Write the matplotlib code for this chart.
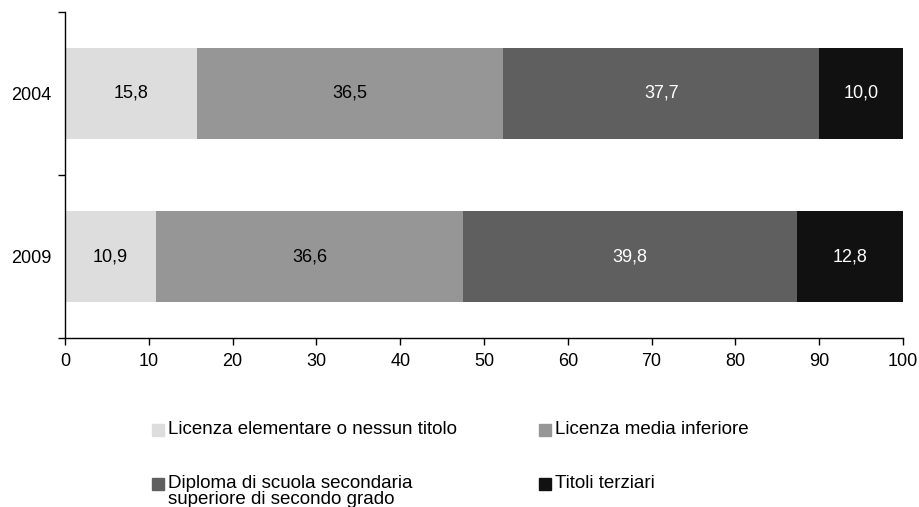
import matplotlib
matplotlib.use("Agg")
import matplotlib.pyplot as plt
from matplotlib.patches import Rectangle

plt.rcParams['font.family'] = ['Liberation Sans', 'DejaVu Sans']

years = ["2004", "2009"]
categories = ["Licenza elementare o nessun titolo",
              "Licenza media inferiore",
              "Diploma di scuola secondaria\nsuperiore di secondo grado",
              "Titoli terziari"]
values_2004 = [15.8, 36.5, 37.7, 10.0]
values_2009 = [10.9, 36.6, 39.8, 12.8]
series = [values_2004, values_2009]
colors = ["#dddddd", "#969696", "#5f5f5f", "#111111"]
text_colors = ["#000000", "#000000", "#ffffff", "#ffffff"]
xticks = [0, 10, 20, 30, 40, 50, 60, 70, 80, 90, 100]

FS = 13
LFS = 13.5

fig = plt.figure(figsize=(9.2, 5.07), dpi=100)
ax = fig.add_axes([65/920, 1-338/507, (903-65)/920, (338-12)/507])

ypos = [1.5, 0.5]
for yi, vals in zip(ypos, series):
    left = 0
    for j, v in enumerate(vals):
        ax.barh(yi, v, left=left, height=0.56, color=colors[j], edgecolor='none')
        ax.text(left + v/2, yi, f"{v:.1f}".replace('.', ','), ha='center', va='center',
                fontsize=FS, color=text_colors[j])
        left += v

ax.set_xlim(0, 100)
ax.set_ylim(0, 2)
ax.set_xticks(xticks)
ax.set_xticklabels([str(t) for t in xticks], fontsize=FS)
ax.set_yticks([0, 1, 2])
ax.set_yticklabels([])
ax.set_yticks(ypos, minor=True)
ax.set_yticklabels(years, minor=True, fontsize=FS)
ax.tick_params(axis='y', which='minor', length=0, pad=10)
ax.tick_params(axis='y', which='major', length=5, direction='out', width=1)
ax.tick_params(axis='x', length=5, direction='out', width=1, pad=6)
for s in ['top', 'right']:
    ax.spines[s].set_visible(False)
for s in ['left', 'bottom']:
    ax.spines[s].set_linewidth(1)

# legend
leg_pos = [(152, 430), (539, 430), (152, 484), (539, 484)]
sq = 12
for (px, py), lab, c in zip(leg_pos, categories, colors):
    fig.patches.append(Rectangle((px/920, 1-(py+sq/2)/507), sq/920, sq/507,
                                 transform=fig.transFigure, color=c, edgecolor='none'))
    fig.text((px+16)/920, 1-(py-9)/507, lab, ha='left', va='top', fontsize=LFS,
             linespacing=0.95)

fig.savefig("out.png", dpi=100)
